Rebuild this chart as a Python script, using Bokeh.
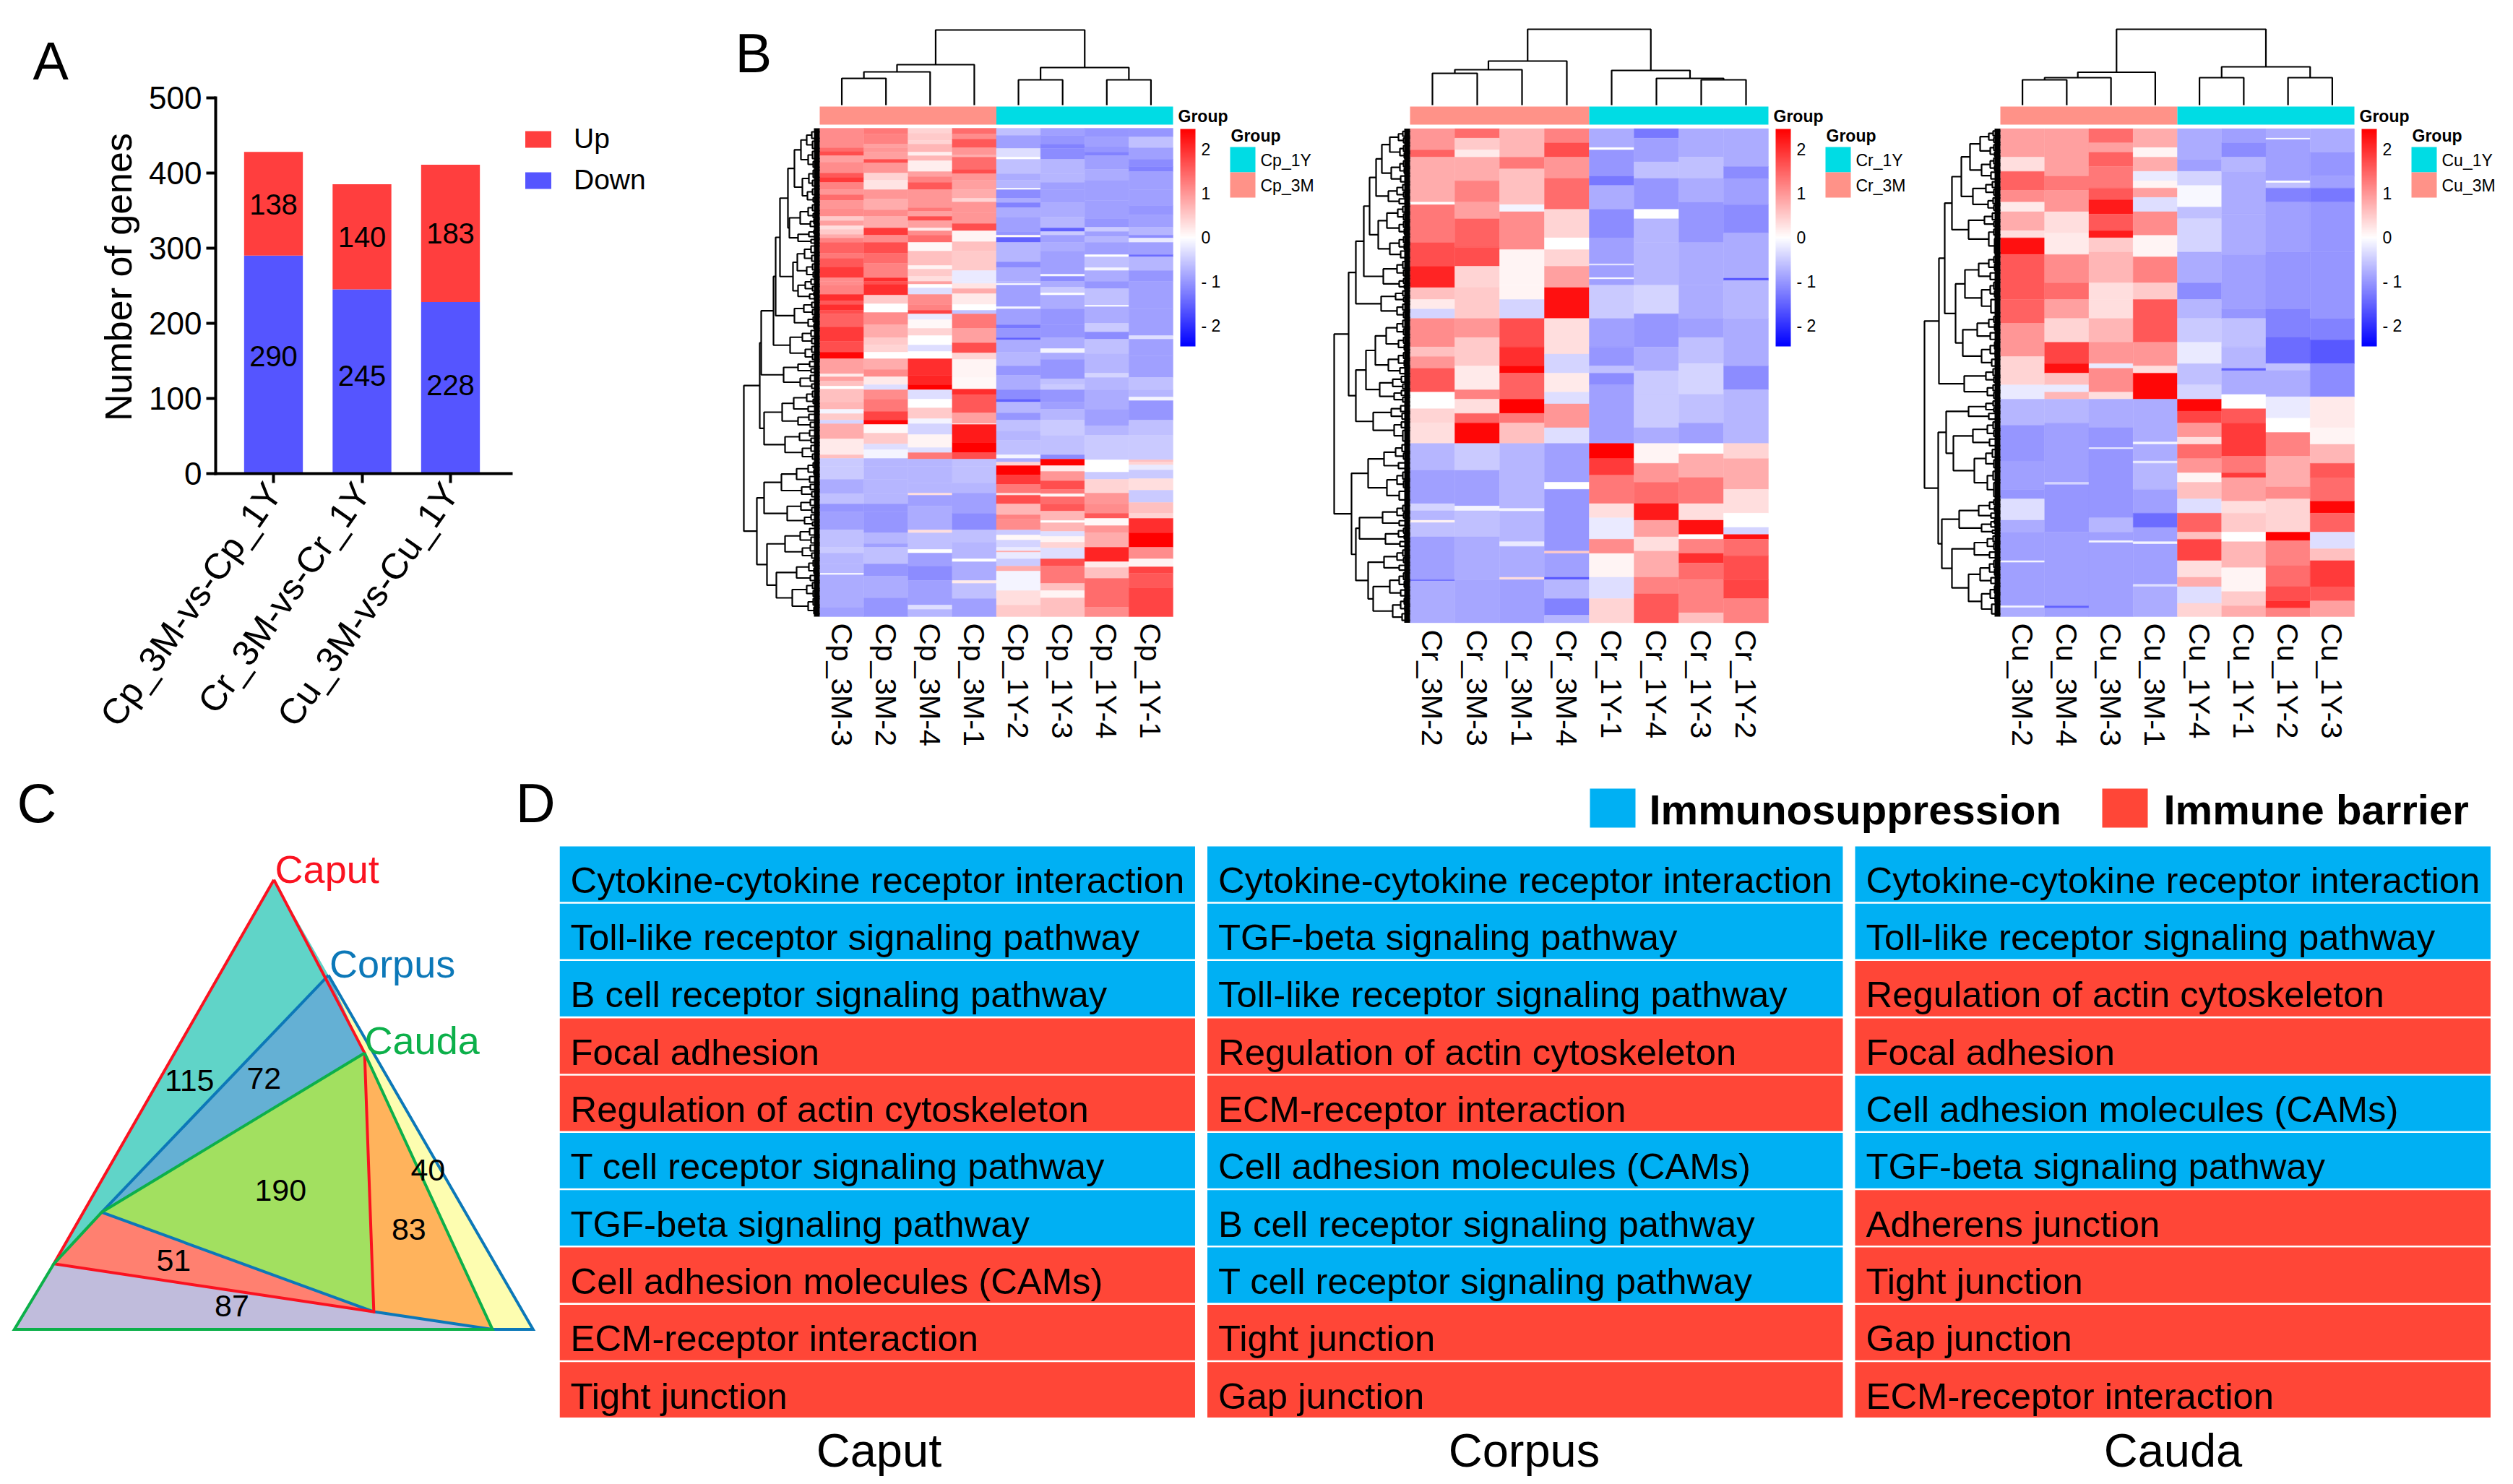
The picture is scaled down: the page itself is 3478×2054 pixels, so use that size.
import math
from bokeh.embed import file_html
from bokeh.resources import INLINE
from bokeh.core.properties import value
from bokeh.layouts import column, row
from bokeh.models import (ColorBar, ColumnDataSource, FixedTicker, Legend, LegendItem,
                          LinearColorMapper, Range1d)
from bokeh.plotting import figure

FONT = "Liberation Sans"
BASE_SHIFT = 0.22  # em: the svg text sits this far below the requested alphabetic line

# ---------------- Panel A ----------------
comparisons = ["Cp_3M-vs-Cp_1Y", "Cr_3M-vs-Cr_1Y", "Cu_3M-vs-Cu_1Y"]
down_genes = [290, 245, 228]
up_genes = [138, 140, 183]
y_ticks = [0, 100, 200, 300, 400, 500]

# ---------------- Panel B: heat map columns as runs of (row where the run ends, z score) ----------------
cp_columns = ["Cp_3M-3", "Cp_3M-2", "Cp_3M-4", "Cp_3M-1", "Cp_1Y-2", "Cp_1Y-3", "Cp_1Y-4", "Cp_1Y-1"]
cp_3m_3 = [(27,1.1),(32,1.4),(38,1.7),(47,.9),(62,1.1),(68,1.6),(75,1.9),(85,1.2),(92,1.0),(100,1.4),(111,1.0),(122,1.1),(128,.5),(135,.9),(140,.3),(147,.5),(152,.8),(158,1.2),(173,1.5),(180,1.3),(192,1.6),(207,1.9),(212,1.1),
           (217,1.1),(230,1.2),(239,2.0),(244,1.6),(252,2.0),(257,1.7),(275,1.5),(295,1.9),(310,1.7),(319,2.4),(340,.9),(344,.2),(350,.9),(357,.6),(361,0),(379,.6),(389,.7),(395,-.1),(404,.5),(409,-.4),(430,.8),(452,.2),(457,.6),(468,-.5),
           (486,-.5),(506,-.8),(520,-.6),(531,-1.0),(556,-.9),(580,-.6),(588,-.5),(603,-.7),(616,-.7),(618,0),(663,-.8),(676,-.9)]
cp_3m_2 = [(8,1.3),(22,1.2),(27,.9),(33,1.0),(43,.9),(48,1.7),(62,1.0),(72,.4),(85,.25),(98,1.0),(113,.8),(122,1.1),(138,.8),(148,1.9),(158,1.1),(173,1.7),(187,1.4),(207,1.2),(212,2.0),
           (216,1.7),(231,2.0),(243,.5),(255,0),(272,1.1),(290,.8),(300,.5),(310,.4),(319,0),(334,.8),(344,1.1),(355,.2),(362,-.3),(375,1.1),(392,1.3),(404,1.8),(410,2.4),(422,.05),(437,.5),(445,-.3),(457,-.1),(468,-.7),
           (486,-.7),(506,-.7),(520,-.7),(531,-1.0),(560,-1.0),(575,-.7),(580,-.9),(603,-.6),(620,-1.0),(650,-.8),(676,-1.0)]
cp_3m_4 = [(7,.4),(17,.5),(22,.4),(33,.7),(38,.15),(45,.7),(60,.15),(67,.9),(75,1.2),(85,1.6),(110,1.0),(115,1.3),(122,.9),(128,1.7),(138,.9),(142,.2),(148,1.1),(158,1.4),(170,.05),(190,.6),(195,.1),(205,.5),(212,.3),
           (216,.9),(221,0),(230,-.3),(244,1.1),(252,1.2),(257,1.8),(265,-.2),(277,.05),(287,.4),(300,0),(309,-.3),(319,0),(342,2.0),(355,2.1),(362,2.45),(375,-.3),(387,0),(402,.5),(409,-.1),(424,-.4),(442,.1),(449,-.3),(458,1.3),(468,-.7),
           (491,-.7),(505,-.7),(508,.3),(523,-.9),(556,-.8),(560,.3),(583,-.6),(588,0),(606,-.9),(626,-1.1),(660,-.9),(666,-.3),(676,-.7)]
cp_3m_1 = [(8,1.4),(15,1.1),(27,1.6),(37,1.0),(40,.8),(57,1.4),(63,1.7),(72,1.0),(85,.9),(97,.8),(102,.4),(117,1.0),(132,1.0),(142,1.7),(157,.1),(170,.6),(197,.5),(212,-.2),
           (215,-.2),(222,.25),(229,.8),(244,.2),(252,0),(257,-.6),(277,1.3),(297,.9),(311,1.7),(320,.4),(345,.1),(361,.05),(369,2.0),(394,1.6),(409,.9),(410,0),(435,2.2),(449,2.45),(458,1.7),(468,-.6),
           (491,-.6),(505,-.7),(533,-.9),(556,-1.1),(573,-.6),(596,-.7),(600,0),(626,-.8),(630,.2),(651,-.6),(676,-.9)]
cp_1y_2 = [(10,-.6),(28,-.9),(40,-.3),(43,0),(63,-.6),(72,-.8),(83,-.7),(85,0),(97,-1.1),(103,-.8),(110,-1.2),(123,-.8),(143,-.9),(148,-1.0),(151,.05),(158,-1.5),(185,-.7),(193,-1.1),(212,-.8),
           (215,-.7),(217,0),(247,-.9),(250,-.1),(272,-.9),(277,-1.3),(290,-1.0),(293,-1.5),(310,-.8),(329,-.7),(342,-1.0),(362,-.8),(375,-1.1),(379,-1.5),(394,-.7),(404,-1.0),(419,-.6),(432,-.7),(452,-.6),(457,-.1),(462,-.8),(467,.4),
           (480,2.45),(493,1.9),(505,1.3),(508,.3),(520,1.7),(535,.7),(541,1.2),(556,1.1),(563,-.5),(570,.05),(580,-.4),(585,-.2),(587,.8),(596,-.2),(606,-.5),(613,.8),(640,-.1),(660,.3),(676,.5)]
cp_1y_3 = [(10,-.9),(22,-1.0),(28,-1.2),(43,-1.1),(63,-.7),(75,-.7),(85,-.9),(103,-.9),(123,-.8),(138,-.7),(143,-1.5),(148,-.5),(158,-.9),(170,-.8),(202,-.9),(205,-.1),(212,-1.1),
           (220,-.8),(228,-.5),(231,0),(250,-.8),(272,-1.0),(290,-1.0),(305,-.8),(311,-.1),(320,-.8),(347,-1.0),(355,-.6),(362,-.5),(379,-1.0),(389,-.9),(404,-.7),(425,-.5),(452,-.6),(458,-1.1),
           (467,2.45),(475,.2),(488,1.0),(500,1.7),(506,1.3),(510,.1),(520,1.4),(530,1.6),(543,.7),(546,0),(558,.7),(565,-.3),(573,.1),(581,.4),(596,-.3),(606,1.7),(630,1.3),(640,.6),(650,.1),(676,.6)]
cp_1y_4 = [(12,-1.0),(25,-.9),(33,-1.0),(38,-1.2),(57,-.9),(72,-.8),(100,-.9),(125,-.9),(137,-1.0),(143,-.5),(150,-.9),(158,-.7),(175,-.9),(178,0),(193,-.6),(197,-.1),(212,-.8),
           (222,-1.0),(245,-.6),(247,0),(270,-.8),(282,-.5),(292,-1.1),(312,-.6),(339,-.7),(345,-.4),(362,-.7),(389,-.8),(412,-.9),(425,-.7),(459,-.5),
           (476,0),(486,-.5),(505,.4),(520,1.0),(533,1.1),(540,1.6),(550,.05),(560,1.0),(580,.8),(600,2.1),(608,.2),(623,.6),(663,1.4),(676,1.1)]
cp_1y_1 = [(12,-1.0),(27,-.6),(43,-.9),(53,-1.1),(60,-1.2),(85,-.9),(107,-.9),(120,-1.0),(137,-.9),(148,-.7),(152,-1.1),(158,-.2),(175,-.9),(178,-1.4),(197,-.7),(212,-1.0),
           (250,-.9),(287,-.9),(292,-.3),(315,-.9),(345,-.9),(362,-.6),(372,-.7),(377,-.1),(404,-1.0),(425,-.6),(459,-.5),(462,.6),
           (466,.4),(473,-.2),(485,-.5),(501,.3),(518,-.5),(533,.6),(540,.4),(560,2.0),(580,2.45),(596,1.1),(607,.1),(616,1.8),(636,1.6),(676,1.8)]

cr_columns = ["Cr_3M-2", "Cr_3M-3", "Cr_3M-1", "Cr_3M-4", "Cr_1Y-1", "Cr_1Y-4", "Cr_1Y-3", "Cr_1Y-2"]
cr_3m_2 = [(45,1.0),(60,1.5),(155,.8),(160,0),(240,1.3),(290,1.7),(335,2.1),(360,.6),(380,.2),(400,-.4),(460,1.1),(480,.6),(505,1.0),(555,1.6),(590,0),(620,.4),(663,.3),(720,-.7),(790,-.9),(805,-.4),(825,-.7),(830,.1),(860,-.6),(950,-.9),(953,-1.4),(1041,-.8)]
cr_3m_3 = [(20,1.4),(45,.5),(60,.2),(110,.8),(155,1.2),(190,.9),(250,1.5),(290,1.7),(335,.4),(400,.5),(440,1.0),(500,.5),(550,.2),(570,1.2),(600,.3),(620,1.5),(663,2.4),(720,-.5),(795,-.9),(805,-.1),(860,-.6),(950,-.8),(1041,-.85)]
cr_3m_1 = [(60,.7),(85,1.3),(160,.6),(175,-.1),(255,1.1),(330,.1),(360,.1),(400,-.4),(460,1.7),(500,2.0),(515,2.4),(570,1.5),(600,2.45),(620,1.3),(663,.6),(800,-.7),(806,-.1),(870,-.7),(880,-.2),(945,-.8),(950,.3),(1041,-.9)]
cr_3m_4 = [(30,1.2),(60,1.7),(105,1.0),(170,1.4),(230,.4),(255,0),(290,.4),(335,.9),(400,2.3),(475,.3),(515,-.4),(555,.2),(580,-.3),(630,1.0),(663,-.3),(745,-.9),(760,0),(890,-1.0),(895,.5),(945,-.9),(950,-1.6),(990,-.7),(1025,-1.2),(1041,-.7)]
cr_1y_1 = [(40,-.8),(45,0),(100,-1.0),(120,-1.3),(170,-.8),(230,-1.1),(285,-.9),(288,-.2),(314,-.9),(317,0),(330,-.9),(400,-.5),(460,-.9),(500,-1.0),(515,-.6),(540,-1.1),(663,-.9),(695,2.45),(730,1.9),(790,1.3),(820,.3),(865,-.2),(895,1.1),(945,.1),(990,-.3),(1041,.4)]
cr_1y_4 = [(20,-1.3),(70,-.9),(105,-.6),(170,-1.0),(190,0),(240,-.7),(330,-.7),(390,-.4),(460,-1.0),(510,-.8),(560,-.5),(630,-.5),(663,-.8),(705,.1),(745,1.0),(790,1.4),(825,2.2),(860,.9),(890,.3),(945,.8),(980,1.2),(1041,1.6)]
cr_1y_3 = [(60,-.8),(105,-.6),(155,-.8),(240,-1.0),(330,-.8),(400,-.8),(440,-.9),(495,-.6),(560,-.4),(620,-.6),(663,-.9),(685,0),(735,.8),(790,1.3),(825,.3),(855,2.3),(865,0),(895,1.2),(915,2.0),(950,1.4),(1020,1.2),(1041,.6)]
cr_1y_2 = [(80,-.8),(105,-1.1),(160,-.9),(220,-1.1),(315,-.8),(320,-1.6),(400,-.7),(500,-.8),(550,-1.1),(663,-.7),(695,.4),(760,.8),(810,.3),(840,0),(855,-.4),(865,2.3),(900,1.4),(950,1.7),(990,1.8),(1041,1.2)]

cu_columns = ["Cu_3M-2", "Cu_3M-4", "Cu_3M-3", "Cu_3M-1", "Cu_1Y-4", "Cu_1Y-1", "Cu_1Y-2", "Cu_1Y-3"]
cu_3m_2 = [(60,.9),(90,.3),(130,1.5),(155,1.1),(175,.2),(215,.8),(230,.3),(265,2.3),(360,1.6),(410,1.5),(480,1.0),(540,.4),(570,-.2),(625,-.7),(700,-1.0),(760,-.9),(780,-1.0),(825,-.3),(850,-.8),(910,-.9),(914,-.1),(1005,-.9),(1009,-.1),(1028,-.8)]
cu_3m_4 = [(100,.9),(130,1.3),(175,1.0),(220,.3),(265,.2),(325,1.1),(360,1.4),(400,.9),(450,.4),(495,1.8),(515,2.3),(540,.6),(555,-.2),(570,.7),(620,-.7),(745,-.9),(750,-.4),(850,-1.0),(1005,-.9),(1010,-1.5),(1028,-.9)]
cu_3m_3 = [(30,1.4),(50,.9),(80,1.5),(125,1.3),(150,1.6),(180,2.2),(215,1.6),(230,2.2),(260,.5),(325,.7),(360,.3),(400,.3),(450,.7),(495,1.0),(505,-.2),(555,1.1),(570,.3),(630,-.8),(672,-1.0),(675,-.2),(820,-1.0),(850,-.7),(868,-.9),(872,-.1),(1028,-.9)]
cu_3m_1 = [(40,.8),(60,.1),(90,.8),(110,-.2),(125,.1),(145,.9),(175,-.3),(225,1.1),(270,.1),(325,1.2),(360,.5),(450,1.6),(500,1.0),(515,.3),(570,2.4),(660,-.8),(665,-.1),(700,-.8),(705,-.2),(760,-.7),(810,-.9),(840,-1.4),(870,-.9),(875,-.1),(960,-.9),(965,-.3),(1028,-.8)]
cu_1y_4 = [(65,-.8),(90,-.9),(120,-.4),(165,-.05),(190,-.6),(260,-.4),(325,-.8),(360,-1.1),(400,-.7),(450,-.5),(495,-.2),(540,-.6),(570,-.4),(595,2.4),(620,1.8),(650,1.0),(665,.3),(695,1.4),(725,1.0),(745,.1),(780,.6),(810,-.3),(850,1.5),(865,.6),(910,1.8),(945,.3),(965,.8),(1000,-.3),(1028,.4)]
cu_1y_1 = [(30,-.9),(60,-1.1),(90,-.7),(180,-.8),(265,-.8),(380,-.9),(400,-1.0),(460,-.6),(505,-.7),(510,-1.5),(560,-.8),(590,0),(620,1.6),(690,1.9),(725,1.3),(735,1.9),(785,.9),(810,.3),(850,.5),(870,0),(925,.7),(975,.1),(1005,.5),(1028,.8)]
cu_1y_2 = [(20,-.8),(23,0),(110,-.9),(114,0),(125,-.6),(155,-1.2),(260,-.9),(380,-1.0),(440,-1.2),(495,-1.4),(510,-.6),(565,-.8),(610,-.2),(640,0),(690,1.2),(755,.8),(780,1.1),(850,.4),(868,2.45),(920,1.2),(965,1.4),(995,1.7),(1010,2.0),(1028,1.2)]
cu_1y_3 = [(50,-.8),(100,-1.0),(125,-.9),(155,-1.3),(260,-1.0),(400,-1.0),(445,-1.2),(495,-1.6),(565,-1.1),(630,.2),(665,.1),(705,.7),(735,1.6),(785,1.4),(810,2.4),(850,1.5),(885,-.3),(910,.6),(965,1.9),(995,1.6),(1028,.9)]

# dendrograms: (height, child, child); a leaf is a row number or a column number
cp_col_tree = (104, (56, (46, (37, 0.5, 1.5), 2.5), 3.5), (52, (35, 4.5, 5.5), (35, 6.5, 7.5)))
cr_col_tree = (105, (61, (49, (44, 0.5, 1.5), 2.5), 3.5), (48, 4.5, (37, 5.5, (35, 6.5, 7.5))))
cu_col_tree = (105, (45.5, (38, (35, 0.5, 1.5), 2.5), 3.5), (53, (38, 4.5, 5.5), (38, 6.5, 7.5)))

cp_row_tree = (105,
 (83,
  (81,
   (64,
    (61,
     (55,
      (44,
       (35,
        (26,(18,(11,5,14),(10,18,28)),(16,(10,32,42),(9,46,54))),
        (24,(15,(9,58,68),(10,72,80)),(17,(10,84,92),(9,96,102)))),
       (42,
        (27,(16,(10,106,114),(9,118,124)),(13,(8,126,132),(7,134,138))),
        (30,(15,(8,141,146),(7,148,152)),(12,154,159)))),
      (37,
       (31,(21,(12,163,172),(11,176,184)),(18,(10,188,196),(9,199,206))),
       (30,(20,(12,209,216),(10,219,225)),(14,(8,227,232),(7,234,238))))),
     (35,(22,(11,241,248),(10,251,258)),(16,(9,261,268),(8,271,277)))),
    (41,(24,(12,280,288),(11,291,298)),(20,(11,302,310),(10,313,320)))),
   (50,
    (30,(14,323,330),(12,333,338)),
    (27,(13,342,350),(11,354,360)))),
  (77,
   (52,
    (36,(18,(10,364,372),(9,375,381)),(16,385,392)),
    (30,(15,396,404),(13,407,414))),
   (48,
    (28,(14,418,426),(12,429,435)),
    (24,(12,439,447),(10,451,458))))),
 (87,
  (77,
   (53,
    (32,(16,(9,463,470),(8,473,479)),(14,482,490)),
    (25,(13,493,500),(11,503,510))),
   (45,
    (26,(13,514,522),(11,525,532)),
    (21,(12,535,542),(10,545,550)))),
  (73,
   (48,
    (27,(14,554,563),(12,566,574)),
    (24,(13,577,585),(11,588,595))),
   (60,
    (32,(15,(9,598,606),(8,609,616)),(13,619,626)),
    (38,(18,(10,629,637),(9,640,648)),(16,(9,651,660),(8,663,672)))))))

cr_row_tree = (105,
 (85,
  (75,
   (64,
    (56,
     (47,
      (39,(28,(16,(10,6,16),(9,20,30)),(14,(9,36,48),(8,52,62))),(26,(14,(9,68,80),(8,84,94)),(13,100,112))),
      (30,(18,(10,118,130),(9,134,144)),(15,148,158))),
     (44,
      (32,(17,(10,164,176),(9,180,192)),(15,(9,196,208),(8,212,222))),
      (28,(15,(9,228,240),(8,244,254)),(13,258,272)))),
    (37,(18,(10,280,294),(9,298,310)),(15,(9,316,326),(8,330,336)))),
   (40,
    (20,(10,342,352),(9,356,364)),
    (18,(10,370,382),(9,386,398)))),
  (75,
   (61,
    (48,
     (33,(18,(10,404,418),(9,422,434)),(16,(9,440,452),(8,456,466))),
     (30,(16,(9,472,484),(8,488,500)),(14,504,516))),
    (42,
     (24,(12,522,534),(10,538,548)),
     (22,(12,552,562),(10,566,576)))),
   (51,
    (26,(13,584,596),(11,600,612)),
    (22,(12,618,630),(10,636,658))))),
 (81,
  (58,
   (36,(20,(11,666,680),(9,684,696)),(16,704,716)),
   (32,(18,(10,724,738),(9,742,756)),(15,764,782))),
  (75,
   (70,
    (38,(18,(10,794,806),(9,810,820)),(15,826,836)),
    (34,(16,(9,842,852),(8,856,864)),(14,870,880))),
   (58,
    (36,(18,(10,888,900),(9,904,914)),(15,920,930)),
    (51,
     (28,(15,(9,936,950),(8,954,966)),(13,972,984)),
     (24,(13,(8,990,1002),(7,1006,1016)),(11,1022,1036)))))))

cu_row_tree = (105,
 (85,
  (77,
   (67,
    (54,
     (42,(28,(16,(10,5,15),(9,19,29)),(14,(9,34,46),(8,50,58))),(26,(14,(9,62,74),(8,78,88)),(13,92,106))),
     (38,(20,(11,112,124),(9,128,140)),(17,(10,146,158),(9,162,172)))),
    (44,(22,(11,178,192),(9,196,206)),(16,(9,212,224),(8,232,262)))),
   (62,
    (49,(30,(16,(9,270,282),(8,286,298)),(14,304,318)),(26,(14,(9,324,338),(8,342,354)),(13,360,388))),
    (52,(32,(16,(9,396,408),(8,412,424)),(14,430,444)),(26,(14,(8,450,464),(7,468,480)),(12,486,500))))),
  (50,(20,(10,506,520),(9,524,534)),(18,(10,540,552),(9,556,568)))),
 (86,
  (75,
   (44,(20,(10,574,584),(9,588,596)),(16,600,612)),
   (65,
    (38,(18,(10,618,632),(9,636,648)),(15,654,668)),
    (36,(20,(11,676,692),(9,698,714)),(18,(10,722,740),(9,746,775))))),
  (81,
   (57,
    (30,(15,(9,782,792),(8,796,806)),(13,810,820)),
    (26,(13,(8,824,832),(7,836,842)),(11,846,852))),
   (67,
    (36,(18,(10,858,870),(9,874,886)),(15,892,904)),
    (44,
     (28,(15,(9,910,924),(8,928,940)),(13,946,958)),
     (26,(14,(8,964,978),(7,982,996)),(12,1002,1022)))))))

# ---------------- Panel C: diagram vertices ----------------
caput_top = (742, 308)
corpus_top = (890, 567)
cauda_top = (988, 778)
right_corner = (1445, 1528)
inner_corner = (1335, 1528)
left_corner = (38, 1528)
left_a = (145, 1350)
left_b = (275, 1210)
low_mid = (1013, 1480)
venn_values = [115, 72, 190, 40, 83, 51, 87]
venn_x = [513, 715, 760, 1160, 1108, 470, 628]
venn_y = [852, 846, 1150, 1095, 1257, 1340, 1465]

# ---------------- Panel D ----------------
caput_terms = ["Cytokine-cytokine receptor interaction", "Toll-like receptor signaling pathway", "B cell receptor signaling pathway",
               "Focal adhesion", "Regulation of actin cytoskeleton", "T cell receptor signaling pathway", "TGF-beta signaling pathway",
               "Cell adhesion molecules (CAMs)", "ECM-receptor interaction", "Tight junction"]
caput_kind = "IIIBBIIBBB"
corpus_terms = ["Cytokine-cytokine receptor interaction", "TGF-beta signaling pathway", "Toll-like receptor signaling pathway",
                "Regulation of actin cytoskeleton", "ECM-receptor interaction", "Cell adhesion molecules (CAMs)",
                "B cell receptor signaling pathway", "T cell receptor signaling pathway", "Tight junction", "Gap junction"]
corpus_kind = "IIIBBIIIBB"
cauda_terms = ["Cytokine-cytokine receptor interaction", "Toll-like receptor signaling pathway", "Regulation of actin cytoskeleton",
               "Focal adhesion", "Cell adhesion molecules (CAMs)", "TGF-beta signaling pathway", "Adherens junction", "Tight junction",
               "Gap junction", "ECM-receptor interaction"]
cauda_kind = "IIBBIIBBBB"
table_titles = ["Caput", "Corpus", "Cauda"]

BLUE, RED = "#00B0F3", "#FF4637"
TOP_H, BOT_H = 1060, 986


def bare(w, h, xr, yr):
    p = figure(width=w, height=h, x_range=xr, y_range=yr, output_backend="svg", toolbar_location=None,
               min_border=0, outline_line_color=None, background_fill_color="white", border_fill_color="white")
    p.grid.visible = False
    p.xaxis.visible = False
    p.yaxis.visible = False
    return p


def txt(p, x, y, s, size, color="black", style="normal", align="left", base="alphabetic", angle=0.0):
    p.text(x=[x], y=[y], text=[s], text_font=value(FONT), text_font_size=f"{size}px", text_color=color,
           text_font_style=style, text_align=align, text_baseline=base, angle=angle,
           y_offset=-BASE_SHIFT * size if base == "alphabetic" else 0)


# ---------- A ----------
def panel_a():
    w = 1018
    ux, uy = 122.5, 519.5 / 500
    x0, y0 = 378, 654.5
    X = lambda px: (px - x0) / ux
    Y = lambda px: (y0 - px) / uy
    p = figure(width=w, height=TOP_H, x_range=Range1d(X(0), X(w)), y_range=Range1d(Y(TOP_H), Y(0)),
               output_backend="svg", toolbar_location=None, outline_line_color=None, min_border=0,
               background_fill_color="white", border_fill_color="white")
    p.grid.visible = False
    xs = list(range(len(comparisons)))
    tops = [d + u for d, u in zip(down_genes, up_genes)]
    r_down = p.vbar(x=xs, width=0.664, bottom=0, top=down_genes, fill_color="#5555FF", line_color=None)
    r_up = p.vbar(x=xs, width=0.664, bottom=down_genes, top=tops, fill_color="#FF3E3E", line_color=None)
    nudge_up = [1, 0, 0]
    nudge_down = [-11, -8, -4]
    p.text(x=xs, y=[d + u / 2 for d, u in zip(down_genes, up_genes)], text=[str(v) for v in up_genes], y_offset=nudge_up,
           text_align="center", text_baseline="middle", text_font=value(FONT), text_font_size="40px")
    p.text(x=xs, y=[d / 2 for d in down_genes], text=[str(v) for v in down_genes], y_offset=nudge_down,
           text_align="center", text_baseline="middle", text_font=value(FONT), text_font_size="40px")
    for ax in (p.xaxis[0], p.yaxis[0]):
        ax.axis_line_width = 4
        ax.axis_line_cap = "square"
        ax.major_tick_line_width = 4
        ax.major_tick_out = 13
        ax.major_tick_in = 0
        ax.minor_tick_line_color = None
        ax.major_label_text_font = FONT
        ax.major_label_text_color = "black"
        ax.axis_line_color = "black"
        ax.major_tick_line_color = "black"
    p.xaxis[0].fixed_location = 0
    p.xaxis[0].bounds = (X(298), X(707))
    p.xaxis[0].ticker = FixedTicker(ticks=xs)
    p.xaxis[0].major_label_overrides = {i: c for i, c in zip(xs, comparisons)}
    p.xaxis[0].major_label_orientation = math.radians(55)
    p.xaxis[0].major_label_text_font_size = "50px"
    p.xaxis[0].major_label_standoff = 6
    p.yaxis[0].fixed_location = X(298)
    p.yaxis[0].bounds = (0, 500)
    p.yaxis[0].ticker = FixedTicker(ticks=y_ticks)
    p.yaxis[0].major_label_text_font_size = "44px"
    p.yaxis[0].major_label_standoff = 6
    txt(p, X(163), Y(383), "Number of genes", 52, base="middle", align="center", angle=math.pi / 2)
    lg = Legend(items=[LegendItem(label="Up", renderers=[r_up]), LegendItem(label="Down", renderers=[r_down])],
                location=(722, TOP_H - 271), orientation="vertical", border_line_color=None, background_fill_alpha=0,
                padding=0, margin=0, spacing=13, glyph_width=45, glyph_height=29, label_height=29,
                label_standoff=27, label_text_font=FONT, label_text_font_size="39px", label_text_color="black")
    p.add_layout(lg, "center")
    txt(p, X(45), Y(100), "A", 74)
    return p


# ---------- B ----------
def walk(node, segs):
    if not isinstance(node, tuple):
        return node, 0.0
    h, a, b = node
    pa, ha = walk(a, segs)
    pb, hb = walk(b, segs)
    segs.append(((ha, h, h, hb), (pa, pa, pb, pb)))
    return (pa + pb) / 2, h


blue_white_red = ["#%02x%02xff" % (int(255 * i / 127), int(255 * i / 127)) for i in range(127)] + \
                 ["#ffffff"] + ["#ff%02x%02x" % (int(255 * (1 - i / 127)), int(255 * (1 - i / 127))) for i in range(1, 128)]


def heat_panel(cols, runs, nrows, hl, hr, ht, hb, fl, fr, col_tree, row_tree, label_y, groups, letter=None):
    cw, rh = (hr - hl) / 8, (hb - ht) / nrows
    p = bare(fr - fl, TOP_H, Range1d((fl - hl) / cw, (fr - hl) / cw), Range1d((TOP_H - ht) / rh, -ht / rh))
    Y = lambda px: (px - ht) / rh
    X = lambda px: (px - hl) / cw
    mapper = LinearColorMapper(palette=blue_white_red, low=-2.46, high=2.46)
    left, right, top, bottom, z = [], [], [], [], []
    for i, col in enumerate(runs):
        start = 0
        for end, v in col:
            left.append(i); right.append(i + 1); top.append(start); bottom.append(end); z.append(v)
            start = end
    p.quad(left="left", right="right", top="top", bottom="bottom",
           fill_color={"field": "z", "transform": mapper}, line_color={"field": "z", "transform": mapper}, line_width=0.4,
           source=ColumnDataSource(dict(left=left, right=right, top=top, bottom=bottom, z=z)))
    # annotation strip
    p.quad(left=[0, 4], right=[4, 8], top=[Y(147)] * 2, bottom=[Y(172)] * 2, fill_color=["#FF9288", "#00DCE4"], line_color=None)
    # column dendrogram
    segs = []
    walk(col_tree, segs)
    p.multi_line(xs=[list(s[1]) for s in segs], ys=[[Y(145 - h) for h in s[0]] for s in segs], line_color="black", line_width=2.2)
    # row dendrogram
    segs = []
    walk(row_tree, segs)
    p.multi_line(xs=[[-h / cw for h in s[0]] for s in segs], ys=[list(s[1]) for s in segs], line_color="black", line_width=2.2)
    p.quad(left=[-8 / cw], right=[0], top=[0], bottom=[nrows], fill_color="black", line_color=None)
    # column names
    p.text(x=[i + 0.5 for i in range(8)], y=[Y(label_y)] * 8, text=cols, angle=-math.pi / 2, text_align="left",
           text_baseline="middle", text_font=value(FONT), text_font_size="41.5px")
    # legends
    txt(p, X(hr + 7), Y(160), "Group", 23, style="bold", base="middle")
    txt(p, X(hr + 80), Y(187), "Group", 23, style="bold", base="middle")
    p.quad(left=[X(hr + 79)] * 2, right=[X(hr + 114)] * 2, top=[Y(203), Y(238)], bottom=[Y(238), Y(273)],
           fill_color=["#00DCE4", "#FF9288"], line_color=None)
    txt(p, X(hr + 121), Y(221), groups[0], 23, base="middle")
    txt(p, X(hr + 121), Y(256), groups[1], 23, base="middle")
    cb = ColorBar(color_mapper=mapper, ticker=FixedTicker(ticks=[-2, -1, 0, 1, 2]),
                  major_label_overrides={-2: "- 2", -1: "- 1", 0: "0", 1: "1", 2: "2"},
                  width=21, height=301, location=(hr + 10 - fl, TOP_H - 479), padding=0, margin=0,
                  label_standoff=8, major_tick_line_color=None, minor_tick_line_color=None, bar_line_color=None,
                  background_fill_alpha=0, border_line_color=None, major_label_text_font=FONT, major_label_text_font_size="23px",
                  major_label_text_color="black")
    p.add_layout(cb, "center")
    if letter:
        txt(p, X(1017), Y(90), letter, 76)
    return p


# ---------- C ----------
def panel_c():
    k = 1.96
    p = bare(774, BOT_H, Range1d(0, 774 * k), Range1d(BOT_H * k, 0))
    regions = [
        ([caput_top, corpus_top, left_b, left_a], "#60D4C8"),
        ([corpus_top, cauda_top, left_b], "#64B0D4"),
        ([cauda_top, low_mid, left_b], "#A2E060"),
        ([cauda_top, inner_corner, low_mid], "#FFB35C"),
        ([corpus_top, right_corner, inner_corner, cauda_top], "#FDFDB0"),
        ([left_b, low_mid, left_a], "#FF8070"),
        ([left_a, low_mid, inner_corner, left_corner], "#C0BCDC"),
    ]
    for pts, colr in regions:
        p.patch(x=[q[0] for q in pts], y=[q[1] for q in pts], fill_color=colr, line_color=None)
    blue_path = [corpus_top, left_b, low_mid, inner_corner, right_corner, corpus_top]
    red_path = [caput_top, left_a, low_mid, cauda_top, caput_top]
    green_path = [cauda_top, left_b, left_a, left_corner, inner_corner, cauda_top]
    for path, colr in ((blue_path, "#0C78B8"), (red_path, "#FA1220"), (green_path, "#0CB04A")):
        p.line(x=[q[0] for q in path], y=[q[1] for q in path], line_color=colr, line_width=4, line_join="miter")
    p.text(x=venn_x, y=venn_y, text=[str(v) for v in venn_values], text_align="center", text_baseline="middle",
           text_font=value(FONT), text_font_size="43px")
    txt(p, 745, 303, "Caput", 54, "#FA1220")
    txt(p, 893, 560, "Corpus", 54, "#0C78B8")
    txt(p, 988, 768, "Cauda", 54, "#0CB04A")
    txt(p, 45, 132, "C", 76)
    txt(p, 1398, 132, "D", 76)
    return p


# ---------- D ----------
def panel_d():
    fl, fr = 774, 3470
    px, py, x0, y0 = 896.5, 79.3, 774, 1171
    page_top, page_bot = TOP_H, TOP_H + BOT_H
    p = bare(fr - fl, BOT_H, Range1d((fl - x0) / px, (fr - x0) / px), Range1d((page_bot - y0) / py, (page_top - y0) / py))
    X = lambda v: (v - x0) / px
    Y = lambda v: (v - y0) / py
    for c, (terms, kinds) in enumerate(((caput_terms, caput_kind), (corpus_terms, corpus_kind), (cauda_terms, cauda_kind))):
        rows_ = list(range(len(terms)))
        p.quad(left=[c] * 10, right=[c + 0.981] * 10, top=rows_, bottom=[r + 0.968 for r in rows_],
               fill_color=[BLUE if k == "I" else RED for k in kinds], line_color=None)
        p.text(x=[c + 15 / px] * 10, y=[r + 0.73 for r in rows_], text=terms, text_baseline="alphabetic",
               y_offset=-BASE_SHIFT * 50, text_font=value(FONT), text_font_size="50.8px")
    title_x = [X(1216), X(2109), X(3007)]
    p.text(x=title_x, y=[Y(2021)] * 3, text=table_titles, text_align="center", text_baseline="alphabetic",
           y_offset=-BASE_SHIFT * 65, text_font=value(FONT), text_font_size="65px")
    p.quad(left=[X(2200), X(2909)], right=[X(2263), X(2972)], top=[Y(1091)] * 2, bottom=[Y(1145)] * 2,
           fill_color=[BLUE, RED], line_color=None)
    txt(p, X(2282), Y(1133), "Immunosuppression", 58, style="bold")
    txt(p, X(2994), Y(1133), "Immune barrier", 58, style="bold")
    return p


heat1 = heat_panel(cp_columns, [cp_3m_3, cp_3m_2, cp_3m_4, cp_3m_1, cp_1y_2, cp_1y_3, cp_1y_4, cp_1y_1], 676,
                   1134, 1623, 177, 853, 1018, 1830, cp_col_tree, cp_row_tree, 862, ("Cp_1Y", "Cp_3M"), letter="B")
heat2 = heat_panel(cr_columns, [cr_3m_2, cr_3m_3, cr_3m_1, cr_3m_4, cr_1y_1, cr_1y_4, cr_1y_3, cr_1y_2], 1041,
                   1951, 2447, 177.5, 861.5, 1830, 2650, cr_col_tree, cr_row_tree, 871, ("Cr_1Y", "Cr_3M"))
heat3 = heat_panel(cu_columns, [cu_3m_2, cu_3m_4, cu_3m_3, cu_3m_1, cu_1y_4, cu_1y_1, cu_1y_2, cu_1y_3], 1028,
                   2768, 3258, 177.5, 853, 2650, 3470, cu_col_tree, cu_row_tree, 862, ("Cu_1Y", "Cu_3M"))

page = column(row(panel_a(), heat1, heat2, heat3, spacing=0), row(panel_c(), panel_d(), spacing=0), spacing=0)
open("out.html", "w").write(file_html(page, INLINE))
